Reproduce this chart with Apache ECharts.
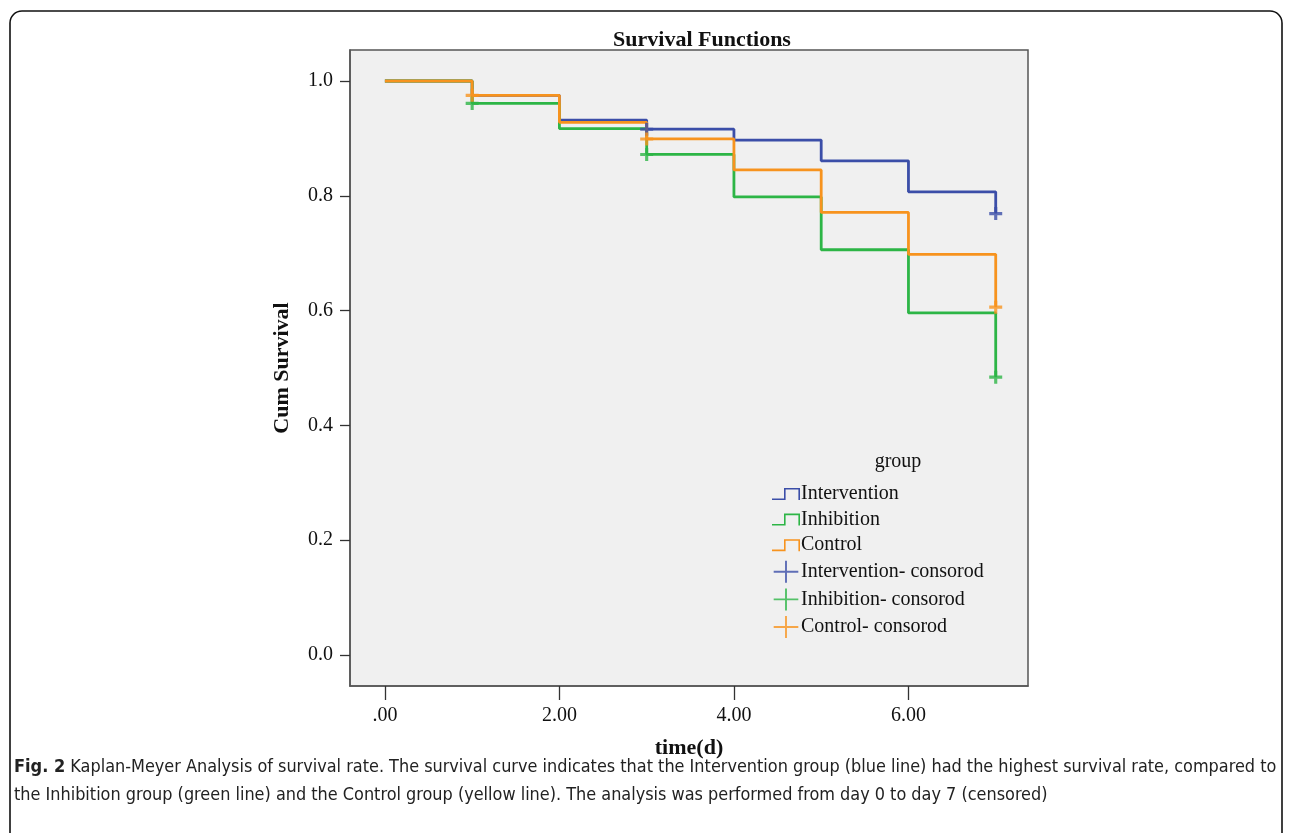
<!DOCTYPE html>
<html>
<head>
<meta charset="utf-8">
<script src="https://cdn.jsdelivr.net/npm/echarts@6/dist/echarts.min.js"></script>
<style>
html,body{margin:0;padding:0;background:#fff;}
#chart{width:1290px;height:833px;}
</style>
</head>
<body>
<div id="chart"></div>
<script>
// ---- data ----
var times = [0, 1, 2, 3, 4, 5, 6, 7];
var intervention = [1.0, 0.975, 0.932, 0.916, 0.897, 0.861, 0.807, 0.769];
var inhibition   = [1.0, 0.961, 0.917, 0.872, 0.798, 0.706, 0.596, 0.484];
var control      = [1.0, 0.975, 0.928, 0.899, 0.845, 0.771, 0.698, 0.606];

var interventionCensorT = [3, 7];
var interventionCensorV = [0.916, 0.769];
var inhibitionCensorT = [1, 3, 7];
var inhibitionCensorV = [0.961, 0.872, 0.484];
var controlCensorT = [1, 3, 7];
var controlCensorV = [0.975, 0.899, 0.606];

var xTicks = [0, 2, 4, 6];
var yTicks = [0, 0.2, 0.4, 0.6, 0.8, 1.0];

var groupNames = ['Intervention', 'Inhibition', 'Control'];
var censorNames = ['Intervention- consorod', 'Inhibition- consorod', 'Control- consorod'];
var colors = ['#3b4ea8', '#2db546', '#f7931e'];

function pairs(t, v) { return t.map(function (x, i) { return [x, v[i]]; }); }

var serif = '"Liberation Serif", "Times New Roman", serif';
var capFont = '"DejaVu Sans Condensed", "Liberation Sans Narrow", sans-serif';
var crossPath = 'path://M3.8,0 H6.2 V3.8 H10 V6.2 H6.2 V10 H3.8 V6.2 H0 V3.8 H3.8 Z';
var crossLegend = 'path://M0,11.4 H28 V13.6 H0 Z M12.9,0 H15.1 V25 H12.9 Z';
var stepLegend = 'path://M0,10.4 H12 V0 H28 V12 H26.4 V1.6 H13.6 V12 H0 Z';

var chart = echarts.init(document.getElementById('chart'), null, {renderer: 'canvas'});

var stepSeries = [intervention, inhibition, control];
var censT = [interventionCensorT, inhibitionCensorT, controlCensorT];
var censV = [interventionCensorV, inhibitionCensorV, controlCensorV];

var series = [];
[0, 1, 2].forEach(function (i) {
  series.push({
    name: groupNames[i], type: 'line', step: 'end',
    data: pairs(times, stepSeries[i]),
    showSymbol: false, symbol: 'none',
    lineStyle: {color: colors[i], width: 2.8},
    itemStyle: {color: colors[i]},
    z: 2 + i, animation: false
  });
});
[0, 1, 2].forEach(function (i) {
  series.push({
    name: censorNames[i], type: 'scatter',
    data: pairs(censT[i], censV[i]),
    symbol: crossPath, symbolSize: 13,
    itemStyle: {color: colors[i]},
    z: 6, animation: false
  });
});

var legendData = [];
[0, 1, 2].forEach(function (i) {
  legendData.push({name: groupNames[i], icon: stepLegend, itemStyle: {color: colors[i], borderWidth: 0}});
});
[0, 1, 2].forEach(function (i) {
  legendData.push({name: censorNames[i], icon: crossLegend, itemStyle: {color: colors[i], borderWidth: 0}});
});

var option = {
  backgroundColor: '#ffffff',
  animation: false,
  title: [
    {text: 'Survival Functions', left: 697, top: 24, textAlign: 'center',
     textStyle: {fontFamily: serif, fontWeight: 'bold', fontSize: 22, color: '#111'}},
    {text: 'group', left: 893, top: 447, textAlign: 'center',
     textStyle: {fontFamily: serif, fontWeight: 'normal', fontSize: 20, color: '#111'}}
  ],
  grid: {left: 350, top: 50, right: 262, bottom: 147, show: true,
         backgroundColor: '#f0f0f0', borderColor: '#555', borderWidth: 1.5},
  legend: {
    orient: 'vertical', left: 767, top: 479, itemWidth: 28, itemHeight: 22, itemGap: 5.6,
    data: legendData, selectedMode: false,
    textStyle: {fontFamily: serif, fontSize: 20, color: '#111', padding: [0, 0, 0, -4]}
  },
  xAxis: {
    type: 'value', min: -0.4, max: 7.37,
    name: 'time(d)', nameLocation: 'middle', nameGap: 51,
    nameTextStyle: {fontFamily: serif, fontWeight: 'bold', fontSize: 22, color: '#111'},
    axisLine: {show: true, onZero: false, lineStyle: {color: '#555', width: 1.5}},
    axisTick: {show: true, length: 14, customValues: xTicks, lineStyle: {color: '#333', width: 1.3}},
    axisLabel: {customValues: xTicks, margin: 20, fontFamily: serif, fontSize: 20, color: '#111',
      formatter: function (v) { return v === 0 ? '.00' : v.toFixed(2); }},
    splitLine: {show: false}
  },
  yAxis: {
    type: 'value', min: -0.054, max: 1.054,
    name: 'Cum Survival', nameLocation: 'middle', nameGap: 57, nameRotate: 90,
    nameTextStyle: {fontFamily: serif, fontWeight: 'bold', fontSize: 22, color: '#111'},
    axisLine: {show: true, onZero: false, lineStyle: {color: '#555', width: 1.5}},
    axisTick: {show: true, length: 10, customValues: yTicks, lineStyle: {color: '#333', width: 1.3}},
    axisLabel: {customValues: yTicks, margin: 17, fontFamily: serif, fontSize: 20, color: '#111',
      formatter: function (v) { return v.toFixed(1); }},
    splitLine: {show: false}
  },
  graphic: [
    {type: 'rect', z: -10, silent: true,
     shape: {x: 10, y: 11, width: 1272, height: 860, r: 12},
     style: {fill: 'none', stroke: '#111', lineWidth: 1.6}},
    {type: 'text', left: 14, top: 758, silent: true,
     style: {
       text: '{b|Fig. 2} Kaplan-Meyer Analysis of survival rate. The survival curve indicates that the Intervention group (blue line) had the highest survival rate, compared to',
       font: '17.9px ' + capFont, fill: '#222',
       rich: {b: {fontWeight: 'bold', fontFamily: capFont, fontSize: 18, fill: '#222'}}
     }},
    {type: 'text', left: 14, top: 786, silent: true,
     style: {
       text: 'the Inhibition group (green line) and the Control group (yellow line). The analysis was performed from day 0 to day 7 (censored)',
       font: '17.9px ' + capFont, fill: '#222'
     }}
  ],
  series: series
};
chart.setOption(option);
</script>
</body>
</html>
